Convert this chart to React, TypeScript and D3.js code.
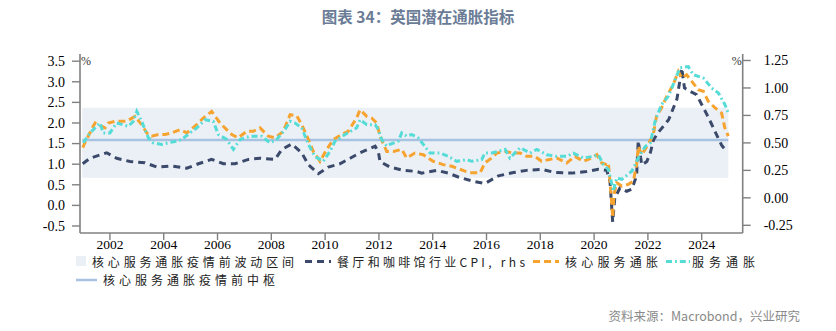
import React from "react";
import * as d3 from "d3";

const title = "图表 34：英国潜在通胀指标";
const source = "资料来源：Macrobond，兴业研究";

const leftTicks = [-0.5, 0, 0.5, 1, 1.5, 2, 2.5, 3, 3.5];
const rightTicks = [-0.25, 0, 0.25, 0.5, 0.75, 1, 1.25];
const yearTicks = [2002, 2004, 2006, 2008, 2010, 2012, 2014, 2016, 2018, 2020, 2022, 2024];

// 餐厅和咖啡馆行业CPI (rhs)
const cafeYears = [2000.99, 2001.26, 2001.88, 2002.25, 2002.75, 2003.3, 2003.74, 2004.3, 2004.86, 2005.29, 2005.78, 2006.22, 2006.65, 2007.15, 2007.58, 2008.14, 2008.39, 2008.76, 2009.13, 2009.38, 2009.75, 2010.12, 2010.55, 2010.93, 2011.3, 2011.48, 2011.86, 2011.98, 2012.04, 2012.41, 2012.91, 2013.41, 2013.59, 2014.15, 2014.58, 2014.95, 2015.51, 2015.94, 2016.44, 2017.0, 2017.49, 2018.05, 2018.55, 2019.17, 2019.72, 2020.16, 2020.47, 2020.59, 2020.65, 2020.69, 2020.77, 2020.96, 2021.21, 2021.4, 2021.58, 2021.64, 2021.77, 2021.96, 2022.09, 2022.21, 2022.4, 2022.77, 2023.08, 2023.26, 2023.36, 2023.56, 2023.81, 2024.0, 2024.19, 2024.37, 2024.56, 2024.74, 2024.93];
const cafeValues = [0.31, 0.36, 0.41, 0.36, 0.33, 0.32, 0.28, 0.29, 0.27, 0.31, 0.35, 0.31, 0.31, 0.35, 0.36, 0.35, 0.44, 0.49, 0.41, 0.3, 0.22, 0.28, 0.31, 0.36, 0.41, 0.43, 0.47, 0.42, 0.33, 0.28, 0.25, 0.24, 0.225, 0.25, 0.225, 0.19, 0.15, 0.13, 0.2, 0.23, 0.25, 0.26, 0.23, 0.225, 0.24, 0.26, 0.25, 0.15, -0.07, -0.22, 0.0, 0.09, 0.06, 0.08, 0.2, 0.52, 0.3, 0.33, 0.41, 0.53, 0.6, 0.71, 0.9, 1.18, 1.0, 0.97, 0.94, 0.85, 0.76, 0.67, 0.57, 0.48, 0.42];

// 核心服务通胀
const coreYears = [2000.99, 2001.07, 2001.38, 2001.45, 2001.82, 2001.94, 2002.19, 2002.44, 2002.62, 2002.93, 2003.18, 2003.37, 2003.55, 2003.8, 2004.05, 2004.3, 2004.61, 2004.86, 2005.23, 2005.47, 2005.78, 2006.09, 2006.34, 2006.53, 2006.77, 2007.09, 2007.33, 2007.58, 2007.89, 2008.14, 2008.45, 2008.57, 2008.7, 2008.94, 2009.13, 2009.38, 2009.56, 2009.81, 2010.06, 2010.31, 2010.62, 2010.86, 2011.17, 2011.3, 2011.55, 2011.73, 2011.92, 2012.04, 2012.29, 2012.54, 2012.85, 2013.03, 2013.34, 2013.65, 2014.02, 2014.39, 2014.71, 2015.2, 2015.39, 2015.76, 2015.94, 2016.19, 2016.38, 2016.69, 2017.0, 2017.25, 2017.49, 2017.8, 2018.05, 2018.3, 2018.61, 2018.98, 2019.29, 2019.6, 2019.91, 2020.1, 2020.28, 2020.47, 2020.53, 2020.59, 2020.65, 2020.69, 2020.74, 2020.84, 2021.03, 2021.27, 2021.46, 2021.58, 2021.64, 2021.77, 2022.01, 2022.2, 2022.32, 2022.51, 2022.7, 2022.94, 2023.13, 2023.26, 2023.44, 2023.63, 2023.87, 2024.06, 2024.24, 2024.49, 2024.74, 2024.86, 2024.99];
const coreValues = [1.4, 1.52, 1.92, 2.0, 1.88, 2.0, 2.04, 2.04, 2.04, 2.16, 1.96, 1.76, 1.68, 1.72, 1.72, 1.76, 1.84, 1.76, 1.96, 2.12, 2.28, 2.0, 1.84, 1.72, 1.64, 1.8, 1.8, 1.88, 1.68, 1.64, 1.8, 2.0, 2.2, 2.18, 1.96, 1.6, 1.31, 1.07, 1.36, 1.6, 1.72, 1.8, 2.12, 2.32, 2.16, 2.12, 2.0, 1.68, 1.31, 1.31, 1.36, 1.15, 1.27, 1.23, 1.07, 0.99, 0.95, 0.83, 0.79, 0.79, 1.03, 1.15, 1.27, 1.31, 1.27, 1.27, 1.19, 1.19, 1.07, 1.11, 1.15, 1.03, 1.19, 1.07, 1.15, 1.23, 1.03, 0.99, 1.03, 0.59, 0.1, -0.3, 0.26, 0.55, 0.47, 0.51, 0.59, 0.99, 1.43, 1.23, 1.48, 1.72, 2.16, 2.37, 2.65, 2.93, 3.25, 3.09, 3.17, 3.01, 2.81, 2.77, 2.53, 2.37, 2.24, 1.88, 1.68];

// 服务通胀
const servYears = [2001.01, 2001.26, 2001.63, 2001.75, 2002.0, 2002.25, 2002.68, 2002.87, 2003.0, 2003.18, 2003.43, 2003.61, 2003.93, 2004.17, 2004.48, 2004.67, 2004.98, 2005.23, 2005.54, 2005.84, 2006.03, 2006.34, 2006.59, 2006.84, 2007.21, 2007.64, 2007.95, 2008.2, 2008.51, 2008.7, 2008.88, 2009.13, 2009.38, 2009.62, 2009.93, 2010.18, 2010.37, 2010.74, 2011.17, 2011.3, 2011.55, 2011.86, 2011.98, 2012.1, 2012.29, 2012.41, 2012.72, 2012.85, 2013.03, 2013.22, 2013.46, 2013.65, 2013.9, 2014.27, 2014.58, 2014.89, 2015.26, 2015.45, 2015.82, 2015.94, 2016.19, 2016.44, 2016.69, 2016.87, 2017.25, 2017.62, 2017.87, 2018.24, 2018.61, 2018.98, 2019.23, 2019.6, 2019.97, 2020.16, 2020.34, 2020.53, 2020.65, 2020.71, 2020.84, 2021.03, 2021.4, 2021.58, 2021.71, 2021.9, 2022.09, 2022.28, 2022.51, 2022.76, 2022.94, 2023.19, 2023.5, 2023.69, 2024.06, 2024.37, 2024.62, 2024.86, 2024.99];
const servValues = [1.52, 1.76, 2.0, 1.76, 1.76, 2.0, 1.92, 2.04, 2.28, 2.04, 1.64, 1.52, 1.48, 1.52, 1.56, 1.6, 1.76, 1.88, 2.08, 2.04, 1.72, 1.6, 1.36, 1.6, 1.68, 1.68, 1.52, 1.6, 1.84, 2.04, 2.0, 1.88, 1.48, 1.19, 1.07, 1.31, 1.56, 1.72, 1.88, 2.08, 1.96, 1.96, 1.84, 1.6, 1.44, 1.48, 1.56, 1.76, 1.68, 1.72, 1.64, 1.48, 1.27, 1.27, 1.19, 1.07, 1.11, 1.07, 1.11, 1.27, 1.27, 1.31, 1.36, 1.15, 1.4, 1.27, 1.36, 1.23, 1.19, 1.19, 1.27, 1.15, 1.19, 1.23, 0.99, 0.87, 0.55, 0.34, 0.67, 0.63, 0.83, 1.07, 1.23, 1.43, 1.52, 2.08, 2.45, 2.65, 2.93, 3.34, 3.37, 3.17, 3.09, 2.85, 2.73, 2.45, 2.24];

// 疫情前波动区间 & 中枢
const bandRange = [0.67, 2.37];
const bandYears = [2000.97, 2024.99];
const centerValue = 1.59;

const legendRow1 = ["核心服务通胀疫情前波动区间", "餐厅和咖啡馆行业CPI, rhs", "核心服务通胀", "服务通胀"];
const legendRow2 = ["核心服务通胀疫情前中枢"];

const COLORS = {
  band: "#ebf0f7",
  center: "#a7c3e1",
  cafe: "#3b4a6b",
  core: "#f6a330",
  serv: "#55dcd6",
  axis: "#808080",
};

export default function App() {
  const W = 836, H = 331;
  const left = 80, right = 742.7, top = 55, bottom = 233;
  const x = d3.scaleLinear().domain([2000.888, 2025.524]).range([left, right]);
  const yL = d3.scaleLinear().domain([-0.67, 3.65]).range([bottom, top]);
  const yR = d3.scaleLinear().domain([-0.32, 1.3]).range([bottom, top]);

  const mk = (xs: number[], vs: number[], ys: d3.ScaleLinear<number, number>) =>
    d3.line<number>().x((_, i) => x(xs[i])).y((v) => ys(v))(vs) || "";

  const cafePath = mk(cafeYears, cafeValues, yR);
  const corePath = mk(coreYears, coreValues, yL);
  const servPath = mk(servYears, servValues, yL);

  const tickFont = "'Liberation Serif', 'Times New Roman', serif";
  const cjk = "'Noto Sans CJK SC', 'Noto Sans', sans-serif";
  const legendFont = 12;
  const row1 = 266.5;

  return (
    <svg width={W} height={H} style={{ position: "absolute", left: 0, top: 0, background: "#fff" }}>
      <text x={418} y={23} textAnchor="middle" fontFamily={cjk} fontWeight="bold" fontSize={15.5} fill="#6b7c96">
        {title}
      </text>

      {/* band */}
      <rect
        x={x(bandYears[0])}
        width={x(bandYears[1]) - x(bandYears[0])}
        y={yL(bandRange[1])}
        height={yL(bandRange[0]) - yL(bandRange[1])}
        fill={COLORS.band}
      />
      <line x1={x(bandYears[0])} x2={x(bandYears[1])} y1={yL(centerValue)} y2={yL(centerValue)} stroke={COLORS.center} strokeWidth={2.5} />

      <path d={cafePath} fill="none" stroke={COLORS.cafe} strokeWidth={3} strokeDasharray="7,5" />
      <path d={corePath} fill="none" stroke={COLORS.core} strokeWidth={3} strokeDasharray="7,4" />
      <path d={servPath} fill="none" stroke={COLORS.serv} strokeWidth={3} strokeDasharray="6,3,1.8,3" />

      {/* axes */}
      <line x1={left} x2={left} y1={top - 1} y2={bottom} stroke={COLORS.axis} strokeWidth={1.6} />
      <line x1={right} x2={right} y1={top - 1} y2={bottom} stroke={COLORS.axis} strokeWidth={1.6} />
      <line x1={left} x2={right} y1={bottom} y2={bottom} stroke={COLORS.axis} strokeWidth={1.6} />

      {leftTicks.map((t) => (
        <g key={"l" + t}>
          <line x1={left - 8} x2={left} y1={yL(t)} y2={yL(t)} stroke={COLORS.axis} strokeWidth={1.4} />
          <text x={left - 15} y={yL(t)} dy="0.35em" textAnchor="end" fontFamily={tickFont} fontSize={14} fill="#000">
            {t.toFixed(1)}
          </text>
        </g>
      ))}
      {rightTicks.map((t) => (
        <g key={"r" + t}>
          <line x1={right} x2={right + 8} y1={yR(t)} y2={yR(t)} stroke={COLORS.axis} strokeWidth={1.4} />
          <text x={right + 21} y={yR(t)} dy="0.35em" textAnchor="start" fontFamily={tickFont} fontSize={14} fill="#000">
            {t.toFixed(2)}
          </text>
        </g>
      ))}
      {yearTicks.map((t) => (
        <g key={"x" + t}>
          <line x1={x(t)} x2={x(t)} y1={bottom} y2={bottom + 7} stroke={COLORS.axis} strokeWidth={1.4} />
          <text x={x(t)} y={bottom + 15.5} textAnchor="middle" fontFamily={tickFont} fontSize={13.5} fill="#000">
            {t}
          </text>
        </g>
      ))}
      <text x={left + 1} y={top + 10} fontFamily={tickFont} fontSize={12} fill="#333">%</text>
      <text x={right - 1} y={top + 10} textAnchor="end" fontFamily={tickFont} fontSize={12} fill="#333">%</text>

      {/* legend row 1 */}
      <rect x={76} y={row1 - 10.5} width={10} height={10} fill={COLORS.band} />
      <text x={92} y={row1} fontFamily={cjk} fontSize={legendFont} fill="#222" textLength={202} lengthAdjust="spacing">{legendRow1[0]}</text>
      <line x1={305} x2={331} y1={row1 - 5} y2={row1 - 5} stroke={COLORS.cafe} strokeWidth={2.8} strokeDasharray="7,5" />
      <text x={337} y={row1} fontFamily={cjk} fontSize={legendFont} fill="#222" textLength={188} lengthAdjust="spacing">{legendRow1[1]}</text>
      <line x1={533} x2={559} y1={row1 - 5} y2={row1 - 5} stroke={COLORS.core} strokeWidth={2.8} strokeDasharray="7,4" />
      <text x={565} y={row1} fontFamily={cjk} fontSize={legendFont} fill="#222" textLength={93} lengthAdjust="spacing">{legendRow1[2]}</text>
      <line x1={666} x2={690} y1={row1 - 5} y2={row1 - 5} stroke={COLORS.serv} strokeWidth={2.8} strokeDasharray="6,3,1.8,3" />
      <text x={692} y={row1} fontFamily={cjk} fontSize={legendFont} fill="#222" textLength={63} lengthAdjust="spacing">{legendRow1[3]}</text>

      {/* legend row 2 */}
      <line x1={76} x2={97} y1={280} y2={280} stroke={COLORS.center} strokeWidth={2.5} />
      <text x={103} y={284.5} fontFamily={cjk} fontSize={legendFont} fill="#222" textLength={172} lengthAdjust="spacing">{legendRow2[0]}</text>

      <text x={800} y={321} textAnchor="end" fontFamily={cjk} fontSize={12.5} fill="#8a8a8a">{source}</text>
    </svg>
  );
}
